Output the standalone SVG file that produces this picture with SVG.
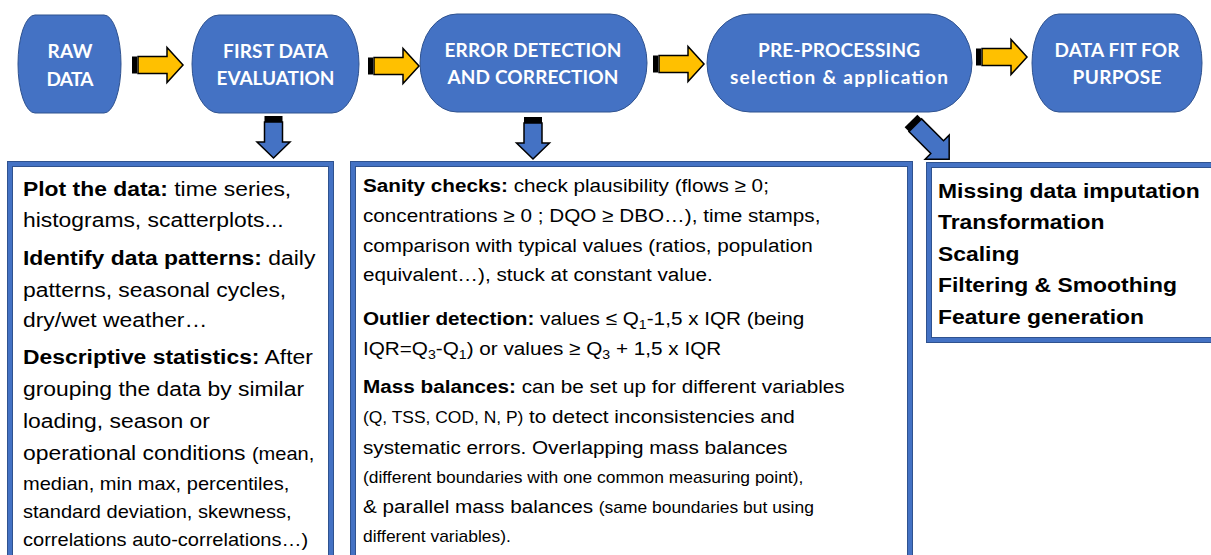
<svg xmlns="http://www.w3.org/2000/svg" xmlns:xlink="http://www.w3.org/1999/xlink" width="1211" height="555" viewBox="0 0 1211 555">
  <style>
    .node { fill: #4472C4; stroke: #2F528F; stroke-width: 1; }
    .label { font-family: Lato, "Open Sans", sans-serif; font-weight: bold; font-size: 19px; fill: #ffffff; text-anchor: middle; }
    .frame-out { fill: #ffffff; stroke: #2F528F; stroke-width: 6; }
    .frame-in { fill: none; stroke: #4472C4; stroke-width: 4; }
    .body { font-family: "Liberation Sans", Arial, sans-serif; fill: #000000; }
    .b1 { font-size: 21px; }
    .b2 { font-size: 19px; }
    .sm1 { font-size: 18.4px; }
    .sm2 { font-size: 16px; }
    .bold { font-weight: bold; }
    .sub { font-size: 13px; }
    .yarrow { fill: #FFC000; stroke: #000000; stroke-width: 1.5; stroke-linejoin: miter; }
    .barrow { fill: #4472C4; stroke: #000000; stroke-width: 1.5; stroke-linejoin: miter; }
  </style>
  <defs>
    <!-- striped block arrow pointing right, origin at left end / centre line -->
    <g id="yarrow">
      <rect x="0" y="-8.5" width="5" height="17" fill="#000000"/>
      <polygon class="yarrow" points="6,-8.5 35,-8.5 35,-17.5 51,0 35,17.5 35,8.5 6,8.5"/>
    </g>
    <!-- striped block arrow pointing down, origin at top / centre line -->
    <g id="darrow">
      <rect x="-9" y="0" width="18" height="6" fill="#000000"/>
      <polygon class="barrow" points="-9,6 9,6 9,26 16.5,26 0,42 -16.5,26 -9,26"/>
    </g>
    <g id="darrow-long">
      <rect x="-9" y="0" width="18" height="6" fill="#000000"/>
      <polygon class="barrow" points="-9,6 9,6 9,37 17,37 0,54 -17,37 -9,37"/>
    </g>
  </defs>

  <!-- text panels -->
  <g id="panel-evaluation">
    <rect class="frame-out" x="10" y="164" width="321" height="420"/>
    <rect class="frame-in" x="10" y="164" width="321" height="420"/>
    <g class="body b1" transform="matrix(1.09 0 0 1 -2.07 0)">
      <text x="23" y="196"><tspan class="bold">Plot the data:</tspan> time series,</text>
      <text x="23" y="227">histograms, scatterplots...</text>
      <text x="23" y="265"><tspan class="bold">Identify data patterns:</tspan> daily</text>
      <text x="23" y="297">patterns, seasonal cycles,</text>
      <text x="23" y="327">dry/wet weather…</text>
      <text x="23" y="364"><tspan class="bold">Descriptive statistics:</tspan> After</text>
      <text x="23" y="396">grouping the data by similar</text>
      <text x="23" y="428">loading, season or</text>
      <text x="23" y="460">operational conditions <tspan class="sm1">(mean,</tspan></text>
      <text x="23" y="490" class="sm1">median, min max, percentiles,</text>
      <text x="23" y="518" class="sm1">standard deviation, skewness,</text>
      <text x="23" y="546" class="sm1">correlations auto-correlations…)</text>
    </g>
  </g>

  <g id="panel-errors">
    <rect class="frame-out" x="353" y="164" width="557" height="420"/>
    <rect class="frame-in" x="353" y="164" width="557" height="420"/>
    <g class="body b2" transform="matrix(1.09 0 0 1 -32.67 0)">
      <text x="363" y="192"><tspan class="bold">Sanity checks:</tspan> check plausibility (flows ≥ 0;</text>
      <text x="363" y="222">concentrations ≥ 0 ; DQO ≥ DBO…), time stamps,</text>
      <text x="363" y="252">comparison with typical values (ratios, population</text>
      <text x="363" y="281">equivalent…), stuck at constant value.</text>
      <text x="363" y="325"><tspan class="bold">Outlier detection:</tspan> values ≤ Q<tspan class="sub" dy="4">1</tspan><tspan dy="-4">-1,5 x IQR (being</tspan></text>
      <text x="363" y="355">IQR=Q<tspan class="sub" dy="4">3</tspan><tspan dy="-4">-Q</tspan><tspan class="sub" dy="4">1</tspan><tspan dy="-4">) or values ≥ Q</tspan><tspan class="sub" dy="4">3</tspan><tspan dy="-4"> + 1,5 x IQR</tspan></text>
      <text x="363" y="393"><tspan class="bold">Mass balances:</tspan> can be set up for different variables</text>
      <text x="363" y="423"><tspan class="sm2">(Q, TSS, COD, N, P)</tspan> to detect inconsistencies and</text>
      <text x="363" y="454">systematic errors. Overlapping mass balances</text>
      <text x="363" y="483" class="sm2">(different boundaries with one common measuring point),</text>
      <text x="363" y="513">&amp; parallel mass balances <tspan class="sm2">(same boundaries but using</tspan></text>
      <text x="363" y="542" class="sm2">different variables).</text>
    </g>
  </g>

  <g id="panel-preprocessing">
    <rect class="frame-out" x="929" y="165" width="300" height="175"/>
    <rect class="frame-in" x="929" y="165" width="300" height="175"/>
    <g class="body b1 bold" transform="matrix(1.09 0 0 1 -84.42 0)">
      <text x="938" y="198">Missing data imputation</text>
      <text x="938" y="229.5">Transformation</text>
      <text x="938" y="261">Scaling</text>
      <text x="938" y="292">Filtering &amp; Smoothing</text>
      <text x="938" y="324">Feature generation</text>
    </g>
  </g>

  <!-- process steps -->
  <g id="raw-data">
    <rect class="node" x="18" y="15" width="103" height="98" rx="17" ry="49"/>
    <text class="label" x="70" y="58" textLength="45">RAW</text>
    <text class="label" x="70" y="86" textLength="47">DATA</text>
  </g>
  <g id="first-evaluation">
    <rect class="node" x="192" y="15" width="167" height="98" rx="27" ry="49"/>
    <text class="label" x="275.5" y="58" textLength="105">FIRST DATA</text>
    <text class="label" x="275.5" y="85" textLength="118">EVALUATION</text>
  </g>
  <g id="error-detection">
    <rect class="node" x="420" y="14" width="227" height="98" rx="37" ry="49"/>
    <text class="label" x="533" y="57" textLength="177">ERROR DETECTION</text>
    <text class="label" x="533" y="84" textLength="171">AND CORRECTION</text>
  </g>
  <g id="pre-processing">
    <rect class="node" x="707" y="14" width="265" height="98" rx="43" ry="49"/>
    <text class="label" x="839" y="57" textLength="162">PRE-PROCESSING</text>
    <text class="label" x="839" y="84" textLength="218">selection &amp; application</text>
  </g>
  <g id="data-fit">
    <rect class="node" x="1032" y="14" width="170" height="98" rx="27" ry="49"/>
    <text class="label" x="1117" y="57" textLength="125">DATA FIT FOR</text>
    <text class="label" x="1117" y="84" textLength="89">PURPOSE</text>
  </g>

  <!-- connectors -->
  <g id="connectors">
    <use xlink:href="#yarrow" transform="translate(132,65)"/>
    <use xlink:href="#yarrow" transform="translate(368,66)"/>
    <use xlink:href="#yarrow" transform="translate(653,64)"/>
    <use xlink:href="#yarrow" transform="translate(976,57)"/>
    <use xlink:href="#darrow" transform="translate(273.5,116)"/>
    <use xlink:href="#darrow" transform="translate(533,117)"/>
    <use xlink:href="#darrow-long" transform="translate(911,121) rotate(-45)"/>
  </g>
</svg>
